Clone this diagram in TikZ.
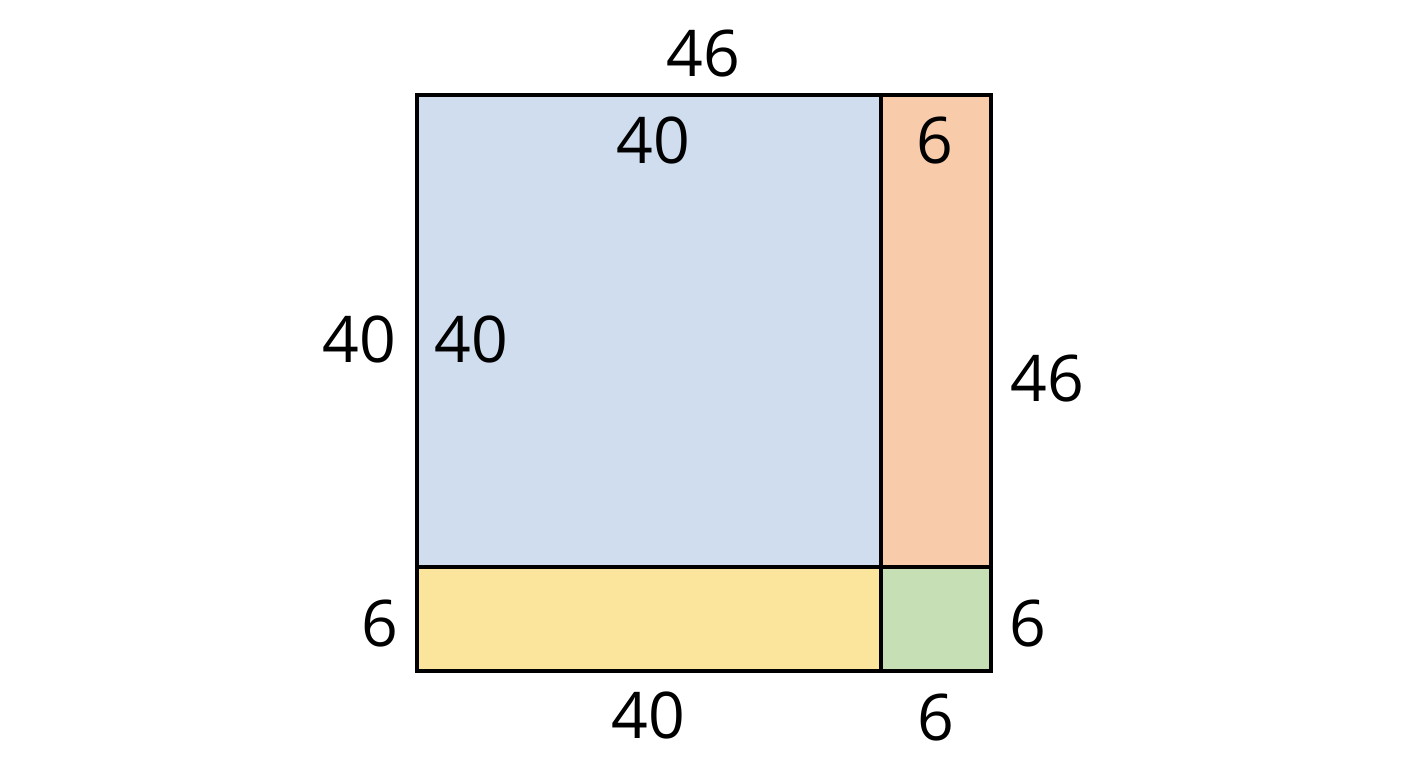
\documentclass[tikz,border=0pt]{standalone}
\usepackage{fontspec}
\setmainfont{Open Sans}
\usetikzlibrary{positioning}
\definecolor{sqblue}{HTML}{D0DDEE}
\definecolor{sqorange}{HTML}{F8CBAA}
\definecolor{sqyellow}{HTML}{FBE49B}
\definecolor{sqgreen}{HTML}{C7DFB5}
\begin{document}
\begin{tikzpicture}[num/.style={font=\fontsize{18.3}{20}\selectfont, inner sep=0pt}]
\useasboundingbox (0,0) rectangle (14.08,7.68);
% the four parts of the 46 x 46 square
\fill[sqblue] (4.17,2.01) rectangle (8.81,6.73);
\fill[sqorange] (8.81,2.01) rectangle (9.91,6.73);
\fill[sqyellow] (4.17,0.97) rectangle (8.81,2.01);
\fill[sqgreen] (8.81,0.97) rectangle (9.91,2.01);
\draw[line width=1.1pt] (4.17,0.97) rectangle (9.91,6.73);
\draw[line width=1.1pt] (8.81,0.97) -- (8.81,6.73);
\draw[line width=1.1pt] (4.17,2.01) -- (9.91,2.01);

% side lengths
\node[num] (top46) at (7.03,7.14) {46};
\node[num] (top40) at (6.53,6.27) {40};
\node[num] (top6) at (9.35,6.27) {6};
\node[num] (left40) at (3.59,4.28) {40};
\node[num] (in40) at (4.71,4.28) {40};
\node[num] (right46) at (10.47,3.89) {46};
\node[num] (left6) at (3.80,1.44) {6};
\node[num] (right6) at (10.28,1.44) {6};
\node[num] (bot40) at (6.48,0.52) {40};
\node[num] (bot6) at (9.36,0.50) {6};
\end{tikzpicture}
\end{document}
